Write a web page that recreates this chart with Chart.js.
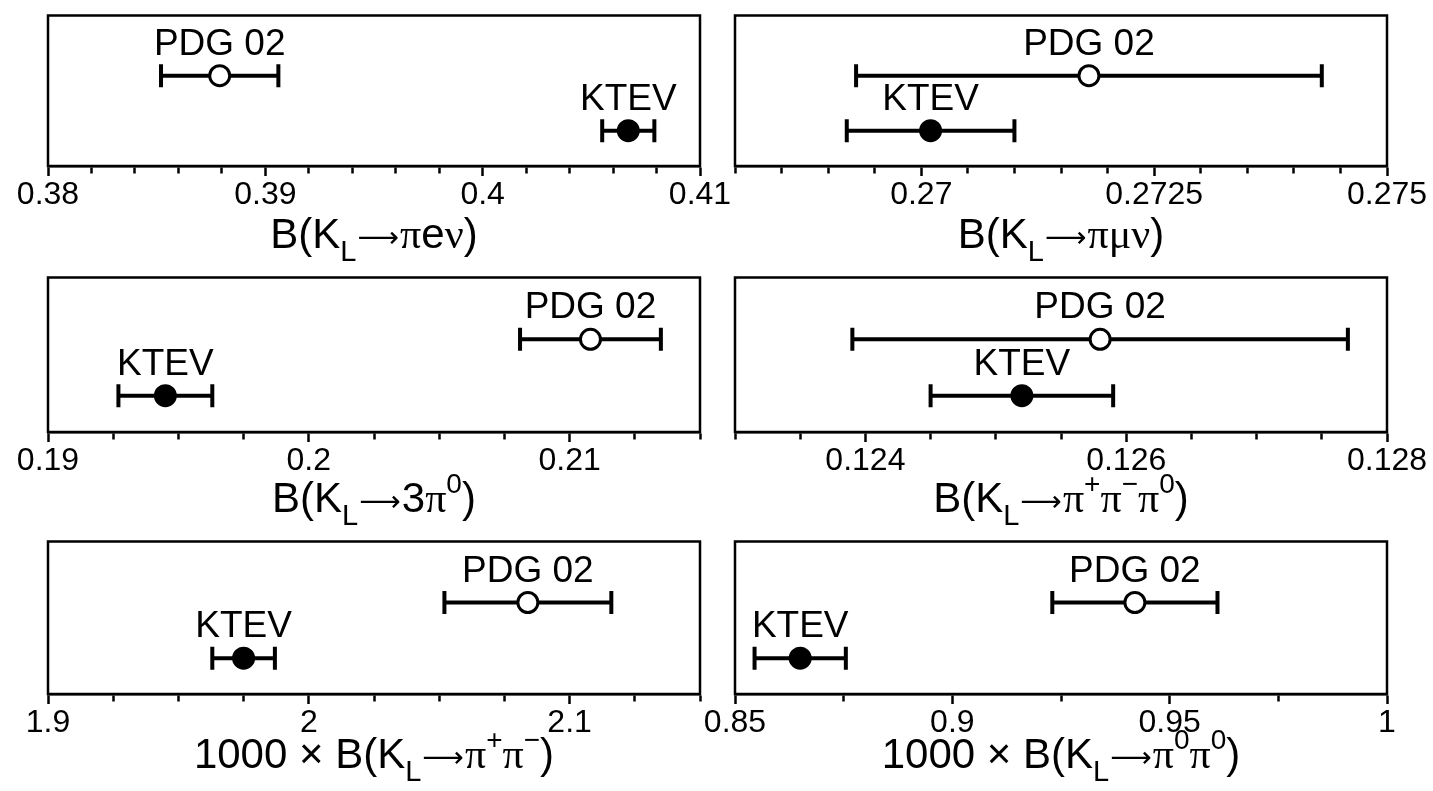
<!DOCTYPE html>
<html>
<head>
<meta charset="UTF-8">
<script src="https://cdn.jsdelivr.net/npm/chart.js@4.4.1/dist/chart.umd.min.js"></script>
<title>KL branching ratios</title>
<style>
body{margin:0;background:#fff;}
#page{position:relative;width:1433px;height:791px;overflow:hidden;}
canvas{position:absolute;}
.ttl{position:absolute;width:700px;text-align:center;font-family:"Liberation Sans",Arial,Helvetica,sans-serif;font-size:42px;line-height:42px;color:#000;white-space:nowrap;}
.ttl sub{font-size:29px;position:relative;top:13px;vertical-align:baseline;}
.ttl sup{font-size:28px;position:relative;top:-19px;vertical-align:baseline;}
.g{font-family:"Liberation Serif","Times New Roman",serif;}
.arr{font-family:"DejaVu Sans",sans-serif;font-size:29px;position:relative;top:-1px;margin:0 1px;}
</style>
</head>
<body>
<div id="page"></div>
<script>
// measurements, one entry per panel (left to right, top to bottom)
var measLabels = ['PDG 02', 'KTEV'];
var pdgValue  = [0.3879, 0.2718, 0.2108, 0.1258, 2.084, 0.942];
var pdgError  = [0.0027, 0.0025, 0.0027, 0.0019, 0.032, 0.019];
var ktevValue = [0.4067, 0.2701, 0.1945, 0.1252, 1.975, 0.865];
var ktevError = [0.0012, 0.0009, 0.0018, 0.0007, 0.012, 0.0105];
// vertical slot of each measurement inside a panel (0 = bottom, 1 = top)
var pdgRow = 0.6;
var ktevRow = 0.235;
// axes
var axisMin   = [0.38, 0.268, 0.19, 0.123, 1.9, 0.85];
var axisMax   = [0.41, 0.275, 0.215, 0.128, 2.15, 1.0];
var minorStep = [0.002, 0.0005, 0.0025, 0.0005, 0.025, 0.025];
var majorStep = [0.01, 0.0025, 0.01, 0.002, 0.1, 0.05];
var ARROW = '<span class="arr">⟶</span>';
var axisTitles = [
  'B(K<sub>L</sub>' + ARROW + '<span class="g">π</span>e<span class="g">ν</span>)',
  'B(K<sub>L</sub>' + ARROW + '<span class="g">πμν</span>)',
  'B(K<sub>L</sub>' + ARROW + '3<span class="g">π</span><sup>0</sup>)',
  'B(K<sub>L</sub>' + ARROW + '<span class="g">π</span><sup>+</sup><span class="g">π</span><sup>−</sup><span class="g">π</span><sup>0</sup>)',
  '1000 × B(K<sub>L</sub>' + ARROW + '<span class="g">π</span><sup>+</sup><span class="g">π</span><sup>−</sup>)',
  '1000 × B(K<sub>L</sub>' + ARROW + '<span class="g">π</span><sup>0</sup><span class="g">π</span><sup>0</sup>)'
];

var FONT = '"Liberation Sans", Arial, Helvetica, sans-serif';
var AXIS_H = 60;
// canvas placement: columns and rows
var cols = [{left: 0, width: 740, padL: 48, padR: 40}, {left: 690, width: 743, padL: 45, padR: 46}];
var rows = [{top: 0, height: 226, padT: 8.5, base: 248}, {top: 262, height: 230, padT: 10.7, base: 512}, {top: 526, height: 228, padT: 10.7, base: 768}];

function isMajor(v, step){
  var r = v / step;
  return Math.abs(r - Math.round(r)) < 1e-6;
}

// frame round the plot area
var framePlugin = {
  id: 'frame',
  afterDraw: function(chart){
    var a = chart.chartArea, ctx = chart.ctx;
    ctx.save();
    ctx.lineWidth = 2.5;
    ctx.strokeStyle = '#000';
    ctx.strokeRect(a.left, a.top, a.right - a.left, a.bottom - a.top);
    ctx.restore();
  }
};

// name of each measurement above its marker
var labelPlugin = {
  id: 'measLabel',
  afterDatasetsDraw: function(chart){
    var ctx = chart.ctx;
    ctx.save();
    ctx.font = '37px ' + FONT;
    ctx.fillStyle = '#000';
    ctx.textAlign = 'center';
    ctx.textBaseline = 'alphabetic';
    chart.data.datasets.forEach(function(ds, i){
      if(!ds.measName) return;
      var pt = chart.getDatasetMeta(i).data[0];
      ctx.fillText(ds.measName, pt.x, pt.y - 21);
    });
    ctx.restore();
  }
};

function errBar(v, e, y){
  return {
    type: 'line',
    data: [{x: v - e, y: y}, {x: v + e, y: y}],
    borderColor: '#000',
    borderWidth: 4,
    pointStyle: 'line',
    pointRotation: 90,
    pointRadius: 11.5,
    pointBorderWidth: 4,
    pointBorderColor: '#000',
    pointHoverRadius: 11.5
  };
}

function marker(v, y, name, fill){
  return {
    type: 'scatter',
    measName: name,
    data: [{x: v, y: y}],
    pointStyle: 'circle',
    pointRadius: 10,
    pointHoverRadius: 10,
    pointBorderWidth: 3,
    pointBorderColor: '#000',
    pointBackgroundColor: fill
  };
}

var page = document.getElementById('page');
for(var p = 0; p < 6; p++){
  var col = cols[p % 2], row = rows[Math.floor(p / 2)];
  var cv = document.createElement('canvas');
  cv.width = col.width; cv.height = row.height;
  cv.style.left = col.left + 'px'; cv.style.top = row.top + 'px';
  page.appendChild(cv);

  var t = document.createElement('div');
  t.className = 'ttl';
  var boxCenter = col.left + col.padL + (col.width - col.padL - col.padR) / 2;
  t.style.left = (boxCenter - 350) + 'px';
  t.style.top = (row.base - 35.5) + 'px';
  t.innerHTML = axisTitles[p];
  page.appendChild(t);

  (function(p){
    new Chart(cv, {
      type: 'scatter',
      data: {
        datasets: [
          marker(pdgValue[p], pdgRow, measLabels[0], '#fff'),
          marker(ktevValue[p], ktevRow, measLabels[1], '#000'),
          errBar(pdgValue[p], pdgError[p], pdgRow),
          errBar(ktevValue[p], ktevError[p], ktevRow)
        ]
      },
      options: {
        responsive: false,
        animation: false,
        devicePixelRatio: 1,
        layout: {padding: {left: col.padL, right: col.padR, top: row.padT, bottom: 0}},
        plugins: {legend: {display: false}, tooltip: {enabled: false}},
        scales: {
          x: {
            type: 'linear',
            min: axisMin[p],
            max: axisMax[p],
            afterFit: function(scale){ scale.height = AXIS_H; },
            border: {display: true, color: '#000', width: 2.5},
            grid: {
              display: true,
              drawOnChartArea: false,
              drawTicks: true,
              tickLength: 10,
              tickWidth: 2.5,
              tickColor: '#000',
              tickBorderDash: function(ctx){
                return (ctx.tick && isMajor(ctx.tick.value, majorStep[p])) ? [] : [6, 30];
              }
            },
            ticks: {
              stepSize: minorStep[p],
              autoSkip: false,
              maxRotation: 0,
              minRotation: 0,
              padding: 0,
              color: '#000',
              font: {family: FONT, size: 32},
              callback: function(v){
                return isMajor(v, majorStep[p]) ? String(parseFloat(v.toFixed(6))) : '';
              }
            }
          },
          y: {type: 'linear', min: 0, max: 1, display: false}
        }
      },
      plugins: [framePlugin, labelPlugin]
    });
  })(p);
}
</script>
</body>
</html>
